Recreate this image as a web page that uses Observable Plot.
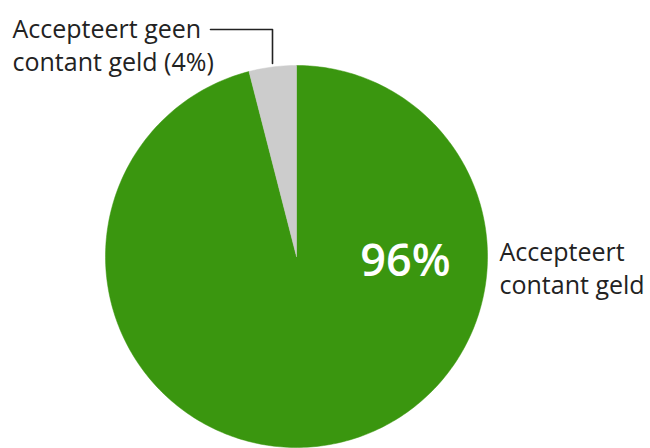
<!DOCTYPE html>
<html>
<head>
<meta charset="utf-8">
<script src="https://cdn.jsdelivr.net/npm/d3@7"></script>
<script src="https://cdn.jsdelivr.net/npm/@observablehq/plot@0.6"></script>
<style>
  html, body { margin: 0; padding: 0; background: #fff; }
  #chart { width: 650px; height: 448px; overflow: hidden; }
</style>
</head>
<body>
<div id="chart"></div>
<script>
// Data
const categories = ["Accepteert contant geld", "Accepteert geen contant geld"];
const shares = [96, 4];
const labelTexts = ["Accepteert\ncontant geld", "Accepteert geen\ncontant geld (4%)"];
const insideLabel = "96%";

const colors = ["#3a960f", "#cccccc"];

// Geometry helpers (pixel layout -> data units of the unit-circle scale)
const W = 650, H = 448, CX = 296, CY = 256, R = 191;
const px = (x) => (x - CX) / R;
const py = (y) => (CY - y) / R;

// Build slices from the data with d3.pie
const arcs = d3.pie().sort(null)(shares);
const slicePts = [];
arcs.forEach((a, i) => {
  const n = Math.max(4, Math.ceil((a.endAngle - a.startAngle) / (Math.PI / 180)));
  slicePts.push({cat: categories[i], x: 0, y: 0});
  for (let k = 0; k <= n; k++) {
    const t = a.startAngle + (a.endAngle - a.startAngle) * k / n;
    slicePts.push({cat: categories[i], x: Math.sin(t), y: Math.cos(t)});
  }
  slicePts.push({cat: categories[i], x: 0, y: 0});
});

const leader = [
  {x: px(210), y: py(29)},
  {x: px(272), y: py(29)},
  {x: px(272), y: py(63)}
];

const font = "'Open Sans', 'Noto Sans', sans-serif";

const chart = Plot.plot({
  width: W,
  height: H,
  marginLeft: CX - R,
  marginRight: W - (CX + R),
  marginTop: CY - R,
  marginBottom: H - (CY + R),
  x: {domain: [-1, 1], axis: null},
  y: {domain: [-1, 1], axis: null},
  color: {domain: categories, range: colors},
  style: {fontFamily: font, overflow: "visible", background: "#fff"},
  marks: [
    Plot.line(slicePts, {x: "x", y: "y", z: "cat", fill: "cat", stroke: "cat", strokeWidth: 0.5, curve: "linear"}),
    Plot.line(leader, {x: "x", y: "y", stroke: "#222", strokeWidth: 1.6}),
    Plot.text([labelTexts[1]], {
      x: px(12), y: py(32 - 0.71 * 25), text: d => d,
      textAnchor: "start", lineAnchor: "top", lineHeight: 1.32,
      fontSize: 25, fill: "#222"
    }),
    Plot.text([labelTexts[0]], {
      x: px(499), y: py(255 - 0.71 * 25), text: d => d,
      textAnchor: "start", lineAnchor: "top", lineHeight: 1.32,
      fontSize: 25, fill: "#222"
    }),
    Plot.text([insideLabel], {
      x: px(405), y: py(275 - 0.71 * 45), text: d => d,
      textAnchor: "middle", lineAnchor: "top",
      fontSize: 45, fontWeight: 600, fill: "#fff"
    })
  ]
});

document.getElementById("chart").appendChild(chart);
</script>
</body>
</html>
